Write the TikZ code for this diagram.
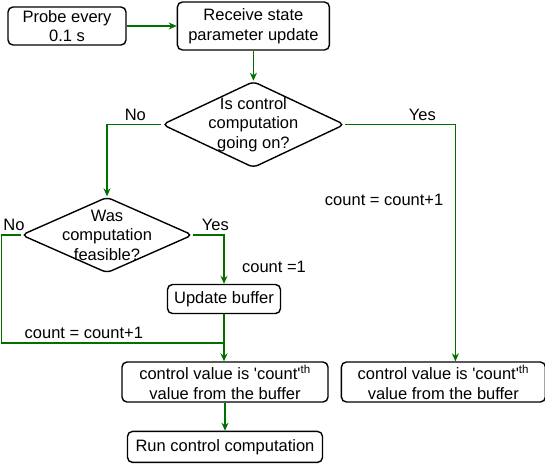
\documentclass[tikz,border=0pt]{standalone}
\usepackage{fontspec}
\setmainfont{Liberation Sans}
\usetikzlibrary{shapes.geometric, arrows.meta, positioning}
\definecolor{flowgreen}{RGB}{0,112,0}

\begin{document}
\begin{tikzpicture}[
        x=1pt, y=-1pt,
        font=\fontsize{16.5}{19.5}\selectfont,
        box/.style={rectangle, draw=black, line width=1.4pt, rounded corners=5pt, align=center, inner sep=2pt},
        decision/.style={diamond, draw=black, line width=1.4pt, rounded corners=5pt, align=center},
        arrow/.style={-{Stealth[length=8pt, width=7pt]}, draw=flowgreen, line width=1.5pt},
        link/.style={draw=flowgreen, line width=1.5pt}
    ]
        \useasboundingbox (0,0) rectangle (545,464);
        \node[box, minimum width=118pt, minimum height=38pt] (probe) at (67,26) {Probe every\\0.1 s};
        \node[box, right=50pt of probe, minimum width=152pt, minimum height=48pt] (recv) {Receive state\\parameter update};
        \node[decision, below=30pt of recv, shape aspect=2.115, inner sep=-3.6pt] (dec1) {Is control\\computation\\going on?};
        \node[decision, shape aspect=2.256, inner sep=-5.0pt] (dec2) at (107,235) {Was\\computation\\feasible?};
        \node[box, minimum width=113pt, minimum height=29pt] (upd) at (224,299) {Update buffer};
        \node[box, minimum width=206pt, minimum height=40pt] (ctrl1) at (225,382) {control value is \textquotesingle count\textquotesingle\textsuperscript{th}\\value from the buffer};
        \node[box, right=12pt of ctrl1, minimum width=204pt, minimum height=40pt] (ctrl2) {control value is \textquotesingle count\textquotesingle\textsuperscript{th}\\value from the buffer};
        \node[box, below=28pt of ctrl1, minimum width=195pt, minimum height=31pt] (run) {Run control computation};
        \coordinate (edge) at (1.5,235);
        \coordinate (merge) at ([yshift=-29pt]upd.south);
        \draw[arrow] (probe) -- (recv);
        \draw[arrow] (recv) -- (dec1);
        \draw[arrow] (dec1.west) -| node[pos=0.24, above] {No} (dec2.north);
        \draw[arrow] (dec1.east) -| node[pos=0.35, above] {Yes} node[pos=0.66, left=8pt] {count = count+1} ([xshift=12pt]ctrl2.north);
        \draw[arrow] (dec2.east) -| node[pos=0.36, above] {Yes} node[pos=0.83, right=14pt] {count =1} (upd.north);
        \draw[link] (dec2.west) -- node[pos=0.35, above] {No} (dec2.west -| edge) |- node[pos=0.685, above] {count = count+1} (merge);
        \draw[link] (upd) -- (merge);
        \draw[arrow] (merge) -- (merge |- ctrl1.north);
        \draw[arrow] (ctrl1) -- (run);
    \end{tikzpicture}
\end{document}
